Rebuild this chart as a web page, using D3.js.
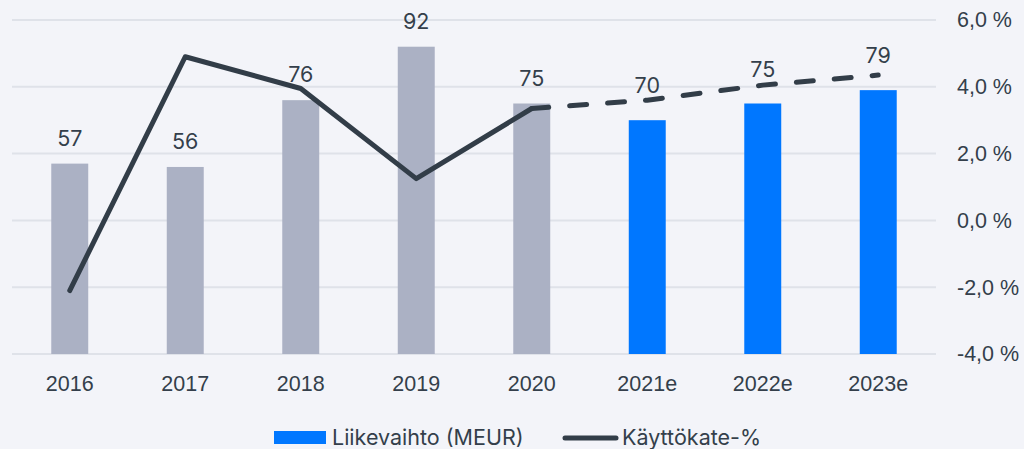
<!DOCTYPE html>
<html>
<head>
<meta charset="utf-8">
<script src="https://cdn.jsdelivr.net/npm/d3@7"></script>
<style>
  body { margin: 0; background: #f3f4f9; }
  svg { display: block; font-family: Inter, "Open Sans", sans-serif; }
</style>
</head>
<body>
<svg id="chart" width="1024" height="449"></svg>
<script>
// data
const years = ["2016", "2017", "2018", "2019", "2020", "2021e", "2022e", "2023e"];
const revenue = [57, 56, 76, 92, 75, 70, 75, 79];
const margin = [-2.1, 4.9, 3.95, 1.25, 3.35, 3.6, 4.05, 4.35];
const isEstimate = [false, false, false, false, false, true, true, true];
const pctTicks = [-4, -2, 0, 2, 4, 6];

const svg = d3.select("#chart");
const plot = {left: 12, right: 936, top: 20, bottom: 354};

const x = d3.scaleBand().domain(years).range([plot.left, plot.right]).paddingInner(0.68).paddingOuter(0.34);
const yBar = d3.scaleLinear().domain([0, 100]).range([plot.bottom, plot.top]);
const yPct = d3.scaleLinear().domain([-4, 6]).range([plot.bottom, plot.top]);

const textColor = "#343f4b";
const fontSize = "21.5px";

// gridlines
svg.append("g")
  .selectAll("line")
  .data(pctTicks)
  .join("line")
  .attr("x1", plot.left)
  .attr("x2", plot.right)
  .attr("y1", d => yPct(d))
  .attr("y2", d => yPct(d))
  .attr("stroke", "#dfe2e9")
  .attr("stroke-width", 2);

// right axis (hyphen minus, comma decimal)
const yAxis = d3.axisRight(yPct)
  .tickValues(pctTicks)
  .tickSize(0)
  .tickPadding(0)
  .tickFormat(d => d.toFixed(1).replace(".", ",") + " %");
svg.append("g")
  .attr("transform", "translate(957,0)")
  .call(yAxis)
  .call(g => g.select(".domain").remove())
  .selectAll("text")
  .attr("fill", textColor)
  .style("font-size", fontSize);

// bottom axis
const xAxis = d3.axisBottom(x).tickSize(0).tickPadding(0);
svg.append("g")
  .attr("transform", "translate(0,376)")
  .call(xAxis)
  .call(g => g.select(".domain").remove())
  .selectAll("text")
  .attr("fill", textColor)
  .attr("dy", "0.71em")
  .style("font-size", fontSize);

// bars
svg.append("g")
  .selectAll("rect")
  .data(years)
  .join("rect")
  .attr("x", d => x(d))
  .attr("width", x.bandwidth())
  .attr("y", (d, i) => yBar(revenue[i]))
  .attr("height", (d, i) => plot.bottom - yBar(revenue[i]))
  .attr("fill", (d, i) => isEstimate[i] ? "#0077ff" : "#abb1c4");

// bar labels (estimates sit a bit higher)
svg.append("g")
  .selectAll("text")
  .data(years)
  .join("text")
  .attr("x", d => x(d) + x.bandwidth() / 2)
  .attr("y", (d, i) => yBar(revenue[i]) - (isEstimate[i] ? 27 : 18))
  .attr("text-anchor", "middle")
  .attr("fill", textColor)
  .style("font-size", fontSize)
  .text((d, i) => revenue[i]);

// line: solid for actuals, dashed for estimates
const pts = years.map((d, i) => [x(d) + x.bandwidth() / 2, yPct(margin[i])]);
const line = d3.line();
svg.append("path")
  .attr("d", line(pts.slice(0, 5)))
  .attr("fill", "none")
  .attr("stroke", "#323d48")
  .attr("stroke-width", 5)
  .attr("stroke-linecap", "round")
  .attr("stroke-linejoin", "round");
svg.append("path")
  .attr("d", line(pts.slice(4)))
  .attr("fill", "none")
  .attr("stroke", "#323d48")
  .attr("stroke-width", 5)
  .attr("stroke-linecap", "round")
  .attr("stroke-dasharray", "17,21");

// legend
const legend = svg.append("g").style("font-size", fontSize).attr("fill", textColor);
legend.append("rect").attr("x", 274).attr("y", 431).attr("width", 52).attr("height", 13).attr("fill", "#0077ff");
legend.append("text").attr("x", 332).attr("y", 445).text("Liikevaihto (MEUR)");
legend.append("line").attr("x1", 565).attr("x2", 616).attr("y1", 438).attr("y2", 438)
  .attr("stroke", "#323d48").attr("stroke-width", 5).attr("stroke-linecap", "round");
legend.append("text").attr("x", 622).attr("y", 445).text("Käyttökate-%");
</script>
</body>
</html>
